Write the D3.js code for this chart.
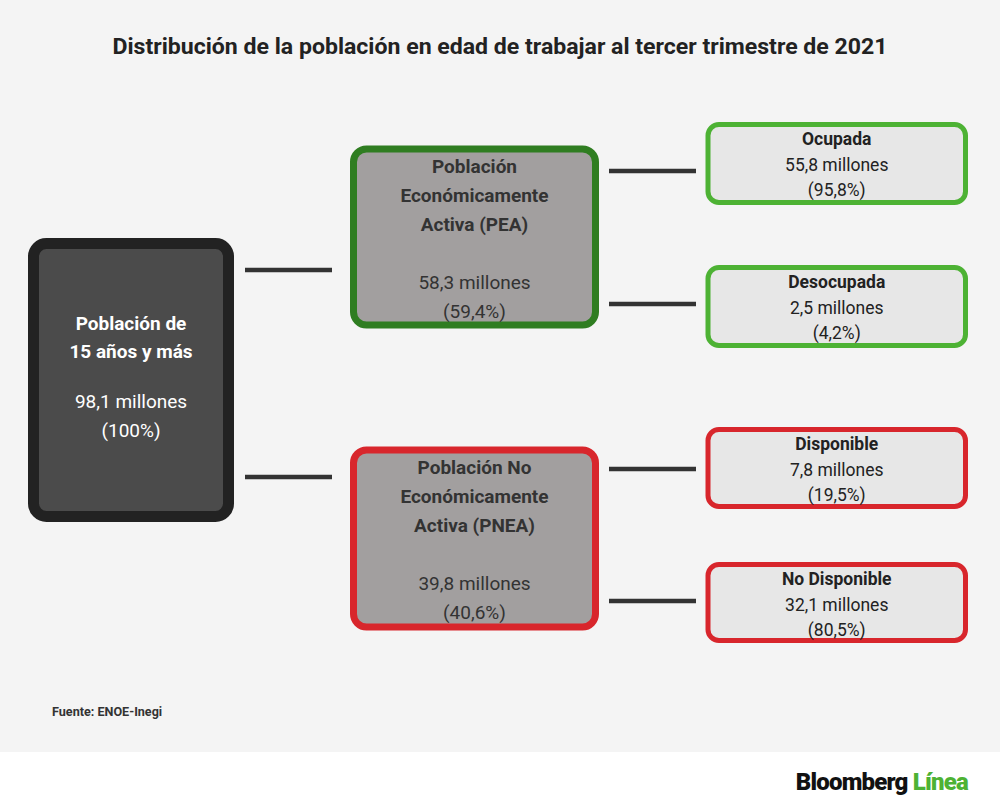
<!DOCTYPE html>
<html lang="es">
  <head>
    <meta charset="UTF-8" />
    <script src="https://d3js.org/d3.v7.min.js"></script>
    <style>
      body { margin: 0; background: #fff; }
      text { font-family: Roboto, "Noto Sans", sans-serif; }
    </style>
  </head>

  <body>
    <script>
      // Datos
      var nodeTitles = [
        ["Población de", "15 años y más"],
        ["Población", "Económicamente", "Activa (PEA)"],
        ["Población No", "Económicamente", "Activa (PNEA)"],
        ["Ocupada"],
        ["Desocupada"],
        ["Disponible"],
        ["No Disponible"]
      ];
      var nodeMillions = [98.1, 58.3, 39.8, 55.8, 2.5, 7.8, 32.1];
      var nodePercents = [100, 59.4, 40.6, 95.8, 4.2, 19.5, 80.5];
      var nodeParents = [null, 0, 0, 1, 1, 2, 2];
      var nodeLevels = [0, 1, 1, 2, 2, 2, 2];

      var width = 1000,
        height = 810;

      var svg = d3
        .select("body")
        .append("svg")
        .attr("width", width)
        .attr("height", height);

      var es = d3.formatLocale({ decimal: ",", thousands: ".", grouping: [3], currency: ["$", ""] });
      function fmtNum(v) {
        return Number.isInteger(v) ? es.format("d")(v) : es.format(".1f")(v);
      }

      // Mise en page (positions)
      var colX = d3.scaleOrdinal().domain([0, 1, 2]).range([33.5, 353.5, 708]);
      var colW = d3.scaleOrdinal().domain([0, 1, 2]).range([195, 242, 257.5]);
      var boxTop = [243.5, 149, 450, 124.5, 267.5, 429.5, 564.5];
      var boxH = [273, 176, 177, 78, 78, 77, 76];
      var linkY = [null, 270, 477, 171, 304, 469, 601];
      var linkX = d3.scaleOrdinal().domain([1, 2]).range([[245, 332], [609, 696]]);

      var fill = ["#4b4b4b", "#a29f9f", "#a29f9f", "#e7e7e7", "#e7e7e7", "#e7e7e7", "#e7e7e7"];
      var stroke = ["#222222", "#2f7d21", "#d8262c", "#4db234", "#4db234", "#d8262c", "#d8262c"];
      var strokeW = [11, 7, 7, 5, 5, 5, 5];

      svg.append("rect").attr("width", width).attr("height", 752).attr("fill", "#f4f4f4");

      svg
        .append("text")
        .attr("x", 500)
        .attr("y", 54)
        .attr("text-anchor", "middle")
        .attr("font-size", 22)
        .attr("font-weight", "bold")
        .attr("fill", "#222")
        .attr("textLength", 775)
        .attr("lengthAdjust", "spacingAndGlyphs")
        .text("Distribución de la población en edad de trabajar al tercer trimestre de 2021");

      var nodes = nodeTitles.map(function (t, i) {
        return {
          id: i,
          title: t,
          millions: nodeMillions[i],
          pct: nodePercents[i],
          parent: nodeParents[i],
          level: nodeLevels[i]
        };
      });

      // liens
      svg
        .append("g")
        .selectAll("line")
        .data(nodes.filter(function (d) { return d.parent !== null; }))
        .enter()
        .append("line")
        .attr("x1", function (d) { return linkX(d.level)[0]; })
        .attr("x2", function (d) { return linkX(d.level)[1]; })
        .attr("y1", function (d) { return linkY[d.id]; })
        .attr("y2", function (d) { return linkY[d.id]; })
        .attr("stroke", "#333")
        .attr("stroke-width", 4.5);

      var g = svg
        .append("g")
        .selectAll("g")
        .data(nodes)
        .enter()
        .append("g");

      g.append("rect")
        .attr("x", function (d) { return colX(d.level); })
        .attr("y", function (d) { return boxTop[d.id]; })
        .attr("width", function (d) { return colW(d.level); })
        .attr("height", function (d) { return boxH[d.id]; })
        .attr("rx", function (d) { return d.level === 2 ? 11 : 13; })
        .attr("fill", function (d) { return fill[d.id]; })
        .attr("stroke", function (d) { return stroke[d.id]; })
        .attr("stroke-width", function (d) { return strokeW[d.id]; });

      // textes
      g.each(function (d) {
        var cx = colX(d.level) + colW(d.level) / 2;
        var values = [fmtNum(d.millions) + " millones", "(" + fmtNum(d.pct) + "%)"];
        var size, step, gap, first, color;
        if (d.level === 0) {
          size = 19; step = 28.5; gap = 50; first = 329.5; color = "#fff";
        } else if (d.level === 1) {
          size = 19; step = 29; gap = 58; first = boxTop[d.id] + 23.5; color = "#333";
        } else {
          size = 17.5; step = 25.5; gap = 25.5; first = boxTop[d.id] + 20.5; color = "#222";
        }
        var t = d3.select(this)
          .append("text")
          .attr("text-anchor", "middle")
          .attr("font-size", size)
          .attr("fill", color);
        var y = first;
        d.title.forEach(function (s) {
          t.append("tspan").attr("x", cx).attr("y", y).attr("font-weight", "bold").text(s);
          y += step;
        });
        y += gap - step;
        values.forEach(function (v) {
          t.append("tspan").attr("x", cx).attr("y", y).text(v);
          y += step;
        });
      });

      svg
        .append("text")
        .attr("x", 52)
        .attr("y", 716)
        .attr("font-size", 12.6)
        .attr("font-weight", "bold")
        .attr("fill", "#333")
        .text("Fuente: ENOE-Inegi");

      var logo = svg
        .append("text")
        .attr("x", 968)
        .attr("y", 790)
        .attr("text-anchor", "end")
        .attr("font-size", 24)
        .attr("font-weight", 900)
        .attr("letter-spacing", -0.8)
        .attr("fill", "#111");
      logo.append("tspan").text("Bloomberg ");
      logo.append("tspan").attr("fill", "#4db234").text("Línea");
    </script>
  </body>
</html>
